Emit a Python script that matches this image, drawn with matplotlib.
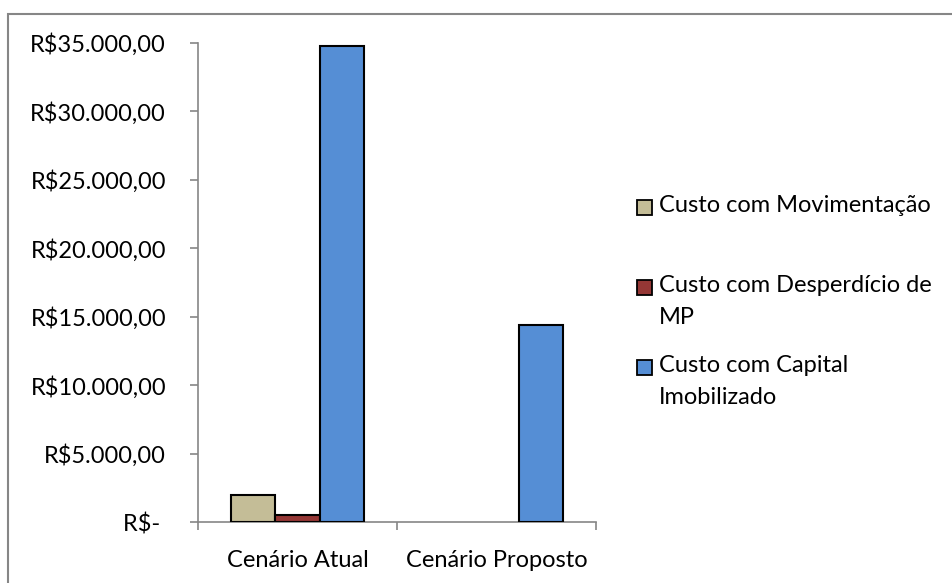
import matplotlib
matplotlib.use("Agg")
import matplotlib.pyplot as plt
from matplotlib.patches import Rectangle
import numpy as np

categories = ["Cenário Atual", "Cenário Proposto"]
series_names = ["Custo com Movimentação", "Custo com Desperdício de\nMP",
                "Custo com Capital\nImobilizado"]
movimentacao = [2000, 0]
desperdicio = [500, 0]
capital = [34800, 14400]
series_values = [movimentacao, desperdicio, capital]
series_colors = ["#C4BD97", "#953735", "#558ED5"]
y_ticks = [0, 5000, 10000, 15000, 20000, 25000, 30000, 35000]
y_tick_labels = ["R$- ", "R$5.000,00", "R$10.000,00", "R$15.000,00", "R$20.000,00",
                 "R$25.000,00", "R$30.000,00", "R$35.000,00"]

plt.rcParams['font.family'] = ['Lato', 'DejaVu Sans']
FS = 17

W, H = 953, 583
fig = plt.figure(figsize=(W / 100, H / 100), dpi=100)
fig.patches.append(Rectangle((8 / W, -0.05), 1.1, 1 - 14 / H + 0.05,
                             transform=fig.transFigure, fill=False,
                             edgecolor="#868686", linewidth=1.5))

ax = fig.add_axes([198 / W, 1 - 522 / H, (596 - 198) / W, (522 - 43) / H])

x = np.arange(len(categories))
width = 1 / 4.5
for i, (vals, col) in enumerate(zip(series_values, series_colors)):
    lws = [1.5 if v > 0 else 0 for v in vals]
    ax.bar(x + (i - 1) * width, vals, width, color=col, edgecolor="black",
           linewidth=lws, zorder=3)

ax.set_xlim(-0.5, 1.5)
ax.set_ylim(0, 35000)
ax.set_yticks(y_ticks)
ax.set_yticklabels(y_tick_labels, fontsize=FS)
ax.set_xticks(x)
ax.set_xticklabels(categories, fontsize=FS)
ax.set_xticks([-0.5, 0.5, 1.5], minor=True)
ax.tick_params(axis="x", which="major", length=0, pad=20)
ax.tick_params(axis="x", which="minor", length=6, color="#868686", width=1.2)
ax.tick_params(axis="y", length=6, color="#868686", width=1.2, pad=17)
for s in ["top", "right"]:
    ax.spines[s].set_visible(False)
for s in ["left", "bottom"]:
    ax.spines[s].set_color("#868686")
    ax.spines[s].set_linewidth(1.2)

# legend drawn as swatches and text, swatch aligned with the first text line
entry_y = [207, 287, 367]
for name, col, yc in zip(series_names, series_colors, entry_y):
    fig.patches.append(Rectangle((637 / W, 1 - (yc + 7.5) / H), 15 / W, 15 / H,
                                 transform=fig.transFigure, facecolor=col,
                                 edgecolor="black", linewidth=1.3))
    fig.text(659 / W, 1 - (yc - 12) / H, name, fontsize=FS, va="top", ha="left",
             linespacing=1.62)

fig.savefig("out.png", dpi=100)
